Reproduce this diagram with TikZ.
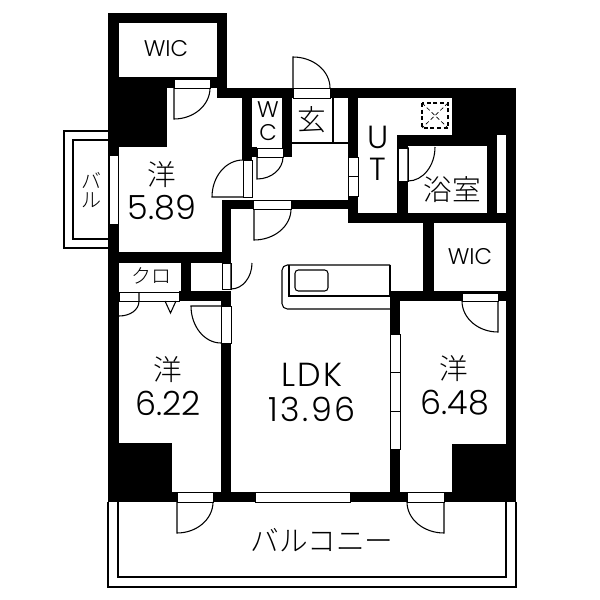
\documentclass[tikz,border=0pt]{standalone}
\usepackage{fontspec}
\setmainfont{Poppins Light}
\newfontfamily\cjk{Noto Sans CJK JP Light}
\usetikzlibrary{calc}
\tikzset{
  thin line/.style={draw=black,line width=0.8pt},
  frame/.style={draw=black,fill=white,line width=0.55pt},
  wall/.style={fill=black},
  roomlabel/.style={inner sep=0pt,font=\fontsize{25}{25}\selectfont},
  widelabel/.style={inner sep=0pt,font=\fontsize{25}{25}\selectfont\addfontfeatures{LetterSpace=7}},
  smalllabel/.style={inner sep=0pt,font=\fontsize{17}{17}\selectfont},
  jplabel/.style={inner sep=0pt,font=\cjk\fontsize{21.5}{21.5}\selectfont},
  jpsmall/.style={inner sep=0pt,font=\cjk\fontsize{15}{15}\selectfont},
}
\newcommand{\doorleaf}[3]{%
  \draw[thin line] (#1) -- (#2) .. controls ($(#2)+0.552*(#3)-0.552*(#1)$) and ($(#3)+0.552*(#2)-0.552*(#1)$) .. (#3);}
\newcommand{\wallrect}[2]{\fill[wall] (#1) rectangle (#2);}
\newcommand{\framerect}[2]{\draw[frame] (#1) rectangle (#2);}
\begin{document}
\begin{tikzpicture}[x=0.75pt,y=-0.75pt]
\useasboundingbox (0,0) rectangle (600,600);
\fill[white] (0,0) rectangle (600,600);
% small balcony
\draw[thin line] (108,131) -- (64,131) -- (64,248) -- (108,248);
\draw[thin line] (108,140) -- (73,140) -- (73,239) -- (108,239);
% large balcony
\draw[thin line] (108,502) -- (108,587) -- (516,587) -- (516,502);
\draw[thin line] (118,502) -- (118,577) -- (506,577) -- (506,502);
% walls
\wallrect{108,13}{119,502}
\wallrect{108,13}{227,23}
\wallrect{217,13}{227,98}
\wallrect{108,77}{217,88}
\wallrect{108,77}{167,147}
\wallrect{217,88}{516,98}
\wallrect{242,88}{252,160}
\wallrect{282,88}{292,157}
\wallrect{242,147}{257,157}
\wallrect{282,147}{292,157}
\wallrect{348,88}{358,223}
\wallrect{452,88}{516,135}
\wallrect{397,135}{497,146}
\wallrect{487,135}{497,223}
\wallrect{397,146}{408,223}
\wallrect{348,213}{516,223}
\wallrect{506,88}{516,502}
\wallrect{423,213}{434,301}
\wallrect{390,291}{516,301}
\wallrect{390,291}{400,502}
\wallrect{452,444}{516,502}
\wallrect{108,492}{516,502}
\wallrect{108,443}{172,502}
\wallrect{221,291}{231,502}
\wallrect{179,291}{231,301}
\wallrect{181,252}{191,301}
\wallrect{108,252}{231,263}
\wallrect{222,200}{231,263}
\wallrect{222,200}{348,209}
% openings and frames
\framerect{109,155}{118,224}
\framerect{174,79}{210,88}
\framerect{257,148}{283,157}
\framerect{243,160}{252,197}
\framerect{253,200}{291,209}
\framerect{293,88}{330,98}
\framerect{348,157}{358,176}
\framerect{348,176}{358,196}
\framerect{398,148}{408,181}
\fill[white] (497,146) rectangle (506,213);
\framerect{462,293}{498,301}
\framerect{390,334}{400,372}
\framerect{390,372}{400,411}
\framerect{390,411}{400,449}
\framerect{407,492}{444,502}
\framerect{255,492}{350,502}
\framerect{177,492}{213,502}
\framerect{221,306}{231,343}
\framerect{222,263}{231,289}
\framerect{119,292}{179,301}
% doors
\doorleaf{174,88}{174,119}{210,88}
\doorleaf{257,157}{257,179}{283,157}
\doorleaf{243,197}{212,197}{243,160}
\doorleaf{254,209}{254,240}{291,209}
\doorleaf{293,88}{293,57}{330,88}
\doorleaf{408,147}{408,181}{435,147}
\doorleaf{498,301}{498,332}{462,301}
\doorleaf{444,502}{444,533}{407,502}
\doorleaf{177,502}{177,533}{213,502}
\doorleaf{221,306}{191,306}{221,343}
\doorleaf{231,263}{231,289}{252,263}
\draw[thin line] (139,292) -- (139,301) .. controls (139,310) and (130,316) .. (119,316);
\draw[thin line] (165,301) -- (170.5,313) -- (176,301);
% entrance shelf
\draw[thin line] (333,98) -- (333,143);
\draw[thin line] (292,143) -- (348,143);
% kitchen
\draw[thin line,rounded corners=4pt] (390,309) -- (282,309) -- (282,265) -- (390,265);
\draw[thin line] (289,265) -- (289,296) -- (390,296);
\draw[thin line] (390,265) -- (390,296);
\draw[thin line,rounded corners=2.5pt] (295,270) rectangle (328,291);
% duct
\draw[thin line,densely dashed] (422,103) rectangle (448,128);
\draw[densely dashed,line width=0.5pt] (422,103) -- (448,128) (448,103) -- (422,128);
% texts
\node[smalllabel] (wicA) at (166,49) {WIC};
\node[smalllabel] (wicB) at (470,257) {WIC};
\node[jplabel] (yoA) at (162,175) {洋};
\node[roomlabel] (numA) at (162,208) {5.89};
\node[jplabel] (yoB) at (168,370) {洋};
\node[roomlabel] (numB) at (168,403) {6.22};
\node[jplabel] (yoC) at (454,369) {洋};
\node[roomlabel] (numC) at (455,403) {6.48};
\node[widelabel] (ldk) at (312,375) {LDK};
\node[widelabel] (numD) at (312,409) {13.96};
\node[jpsmall] (baA) at (91,180) {バ};
\node[jpsmall] (ruA) at (91,200) {ル};
\node[smalllabel] (wcW) at (268,110) {W};
\node[smalllabel] (wcC) at (268,133) {C};
\node[jpsmall] (kuro) at (151,276) {クロ};
\node[jplabel] (gen) at (312,120) {玄};
\node[roomlabel,font=\fontsize{24}{24}\selectfont] (utU) at (378,137) {U};
\node[roomlabel,font=\fontsize{24}{24}\selectfont] (utT) at (378,169) {T};
\node[jplabel] (bath) at (452,190) {浴室};
\node[jplabel] (balc) at (322,540) {バルコニー};
\end{tikzpicture}
\end{document}
